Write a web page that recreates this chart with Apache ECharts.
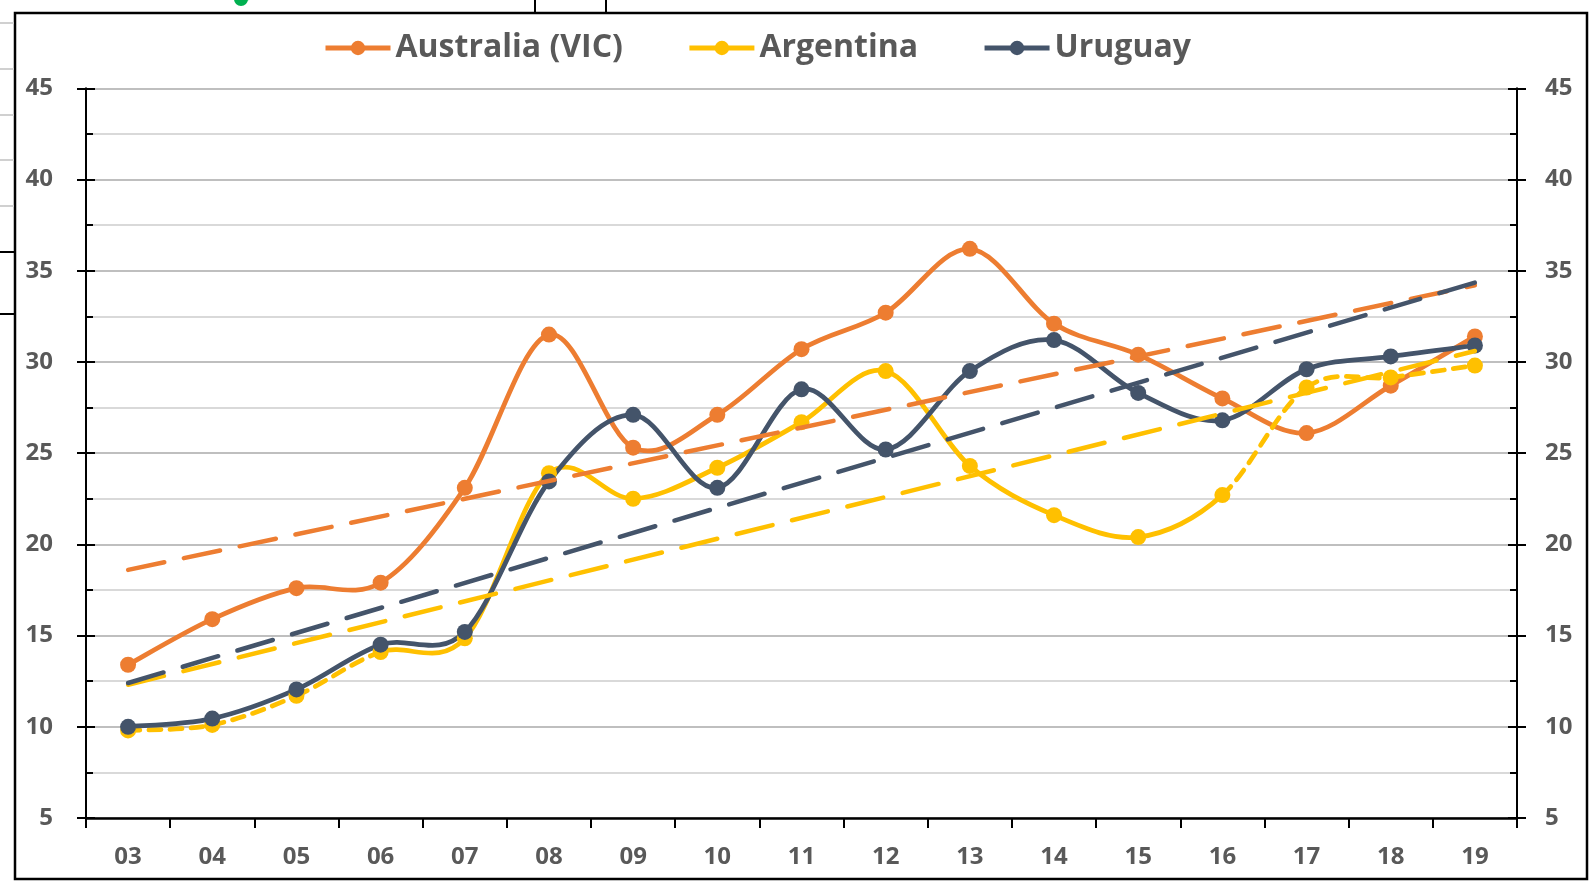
<!DOCTYPE html>
<html>
<head>
<meta charset="utf-8">
<script src="https://cdn.jsdelivr.net/npm/echarts@6/dist/echarts.min.js"></script>
<style>
html,body{margin:0;padding:0;background:#fff;}
#chart{width:1591px;height:884px;}
</style>
</head>
<body>
<div id="chart"></div>
<script>
// ---- data ----
const categories = ['03','04','05','06','07','08','09','10','11','12','13','14','15','16','17','18','19'];
const australia = [13.4, 15.9, 17.6, 17.9, 23.1, 31.5, 25.3, 27.1, 30.7, 32.7, 36.2, 32.1, 30.4, 28.0, 26.1, 28.7, 31.4];
const argentina = [9.8, 10.1, 11.7, 14.1, 14.85, 23.9, 22.5, 24.2, 26.7, 29.5, 24.3, 21.6, 20.4, 22.7, 28.6, 29.15, 29.8];
const uruguay   = [10.0, 10.45, 12.05, 14.5, 15.2, 23.45, 27.1, 23.1, 28.5, 25.2, 29.5, 31.2, 28.3, 26.8, 29.6, 30.3, 30.9];
// trendline values at first and last category
const trendAustralia = [18.6, 34.2];
const trendArgentina = [12.3, 30.6];
const trendUruguay   = [12.4, 34.35];
// Argentina line segments drawn dashed (segment i joins category i and i+1)
const argDashedSegments = [0, 1, 2, 13, 14, 15];
const yTicks = {min: 5, max: 45, interval: 5};

const names = ['Australia (VIC)', 'Argentina', 'Uruguay'];
const colors = {aus: '#ED7D31', arg: '#FFC000', uru: '#44546A'};
const labelColor = '#595959';
const fontFam = "'Open Sans', 'Noto Sans', sans-serif";

const n = categories.length;
const lineW = 4.75, symSize = 16;
const trendData = t => categories.map((c, i) => i === 0 ? t[0] : (i === n - 1 ? t[1] : null));

// Excel-like smoothed line (Catmull-Rom style Bezier segments) drawn through the axes' coordinates
function curveSeries(values, color, dashedSegs) {
  return {
    type: 'custom', name: 'curve', silent: true, animation: false, z: 2,
    data: values.slice(0, -1).map((v, i) => [i, v, values[i + 1]]),
    encode: {x: 0, y: [1, 2]},
    clip: true,
    renderItem: function (params, api) {
      const i = params.dataIndex;
      const pt = k => api.coord([k, values[k]]);
      const p1 = pt(i), p2 = pt(i + 1);
      const p0 = i > 0 ? pt(i - 1) : p1;
      const p3 = i + 2 < values.length ? pt(i + 2) : p2;
      const t = 1 / 6;
      const dashed = dashedSegs && dashedSegs.indexOf(i) >= 0;
      return {
        type: 'bezierCurve',
        shape: {
          x1: p1[0], y1: p1[1], x2: p2[0], y2: p2[1],
          cpx1: p1[0] + (p2[0] - p0[0]) * t, cpy1: p1[1] + (p2[1] - p0[1]) * t,
          cpx2: p2[0] - (p3[0] - p1[0]) * t, cpy2: p2[1] - (p3[1] - p1[1]) * t
        },
        style: {
          fill: 'none', stroke: color, lineWidth: lineW, lineCap: 'round',
          lineDash: dashed ? [12, 9] : null
        }
      };
    }
  };
}
function markerSeries(name, data, color) {
  return {
    name: name, type: 'line', data: data,
    symbol: 'circle', symbolSize: symSize, showSymbol: true,
    lineStyle: {color: color, width: 5, opacity: 0},
    itemStyle: {color: color, borderWidth: 0},
    emphasis: {disabled: true}, silent: true, animation: false, z: 2
  };
}
function trendSeries(name, t, color) {
  return {
    name: name, type: 'line', data: trendData(t), connectNulls: true,
    symbol: 'none', smooth: false,
    lineStyle: {color: color, width: 4.5, type: [37, 20], cap: 'round'},
    emphasis: {disabled: true}, silent: true, animation: false, z: 3
  };
}

const labelStyle = {color: labelColor, fontSize: 24, fontWeight: 'bold', fontFamily: fontFam};
const blackLine = {color: '#000', width: 2};

const chart = echarts.init(document.getElementById('chart'), null, {renderer: 'canvas'});
chart.setOption({
  backgroundColor: '#fff',
  animation: false,
  grid: {left: 86, right: 74, top: 88.3, bottom: 66, containLabel: false},
  legend: {
    data: names.map(nm => ({name: nm, lineStyle: {opacity: 1, width: 5}})),
    left: 318, top: 27, itemWidth: 65, itemHeight: 18, itemGap: 64,
    textStyle: {color: labelColor, fontSize: 32, fontWeight: 'bold', fontFamily: fontFam},
    selectedMode: false
  },
  xAxis: {
    type: 'category', data: categories, boundaryGap: true,
    axisLine: {show: true, onZero: false, lineStyle: {color: '#000', width: 2.5}},
    axisTick: {show: true, interval: 0, length: 10, lineStyle: blackLine},
    axisLabel: Object.assign({margin: 27, interval: 0}, labelStyle),
    splitLine: {show: false}
  },
  yAxis: [
    Object.assign({type: 'value', position: 'left',
      axisLine: {show: true, onZero: false, lineStyle: blackLine},
      axisTick: {show: true, length: 9, lineStyle: blackLine},
      axisLabel: Object.assign({margin: 33}, labelStyle),
      splitLine: {show: true, lineStyle: {color: '#BFBFBF', width: 2}},
      minorTick: {show: false, splitNumber: 2},
      minorSplitLine: {show: true, lineStyle: {color: '#D9D9D9', width: 2}}
    }, yTicks),
    Object.assign({type: 'value', position: 'right',
      axisLine: {show: true, onZero: false, lineStyle: blackLine},
      axisTick: {show: true, length: 9, lineStyle: blackLine},
      axisLabel: Object.assign({margin: 28}, labelStyle),
      splitLine: {show: false}
    }, yTicks),
    Object.assign({type: 'value', position: 'left',
      axisLine: {show: false},
      axisTick: {show: true, inside: true, length: 9, lineStyle: blackLine},
      minorTick: {show: true, splitNumber: 2, length: 7, lineStyle: blackLine},
      axisLabel: {show: false}, splitLine: {show: false}
    }, yTicks),
    Object.assign({type: 'value', position: 'right',
      axisLine: {show: false},
      axisTick: {show: true, inside: true, length: 9, lineStyle: blackLine},
      minorTick: {show: true, splitNumber: 2, length: 7, lineStyle: blackLine},
      axisLabel: {show: false}, splitLine: {show: false}
    }, yTicks)
  ],
  series: [
    curveSeries(australia, colors.aus, null),
    markerSeries(names[0], australia, colors.aus),
    curveSeries(argentina, colors.arg, argDashedSegments),
    markerSeries(names[1], argentina, colors.arg),
    curveSeries(uruguay, colors.uru, null),
    markerSeries(names[2], uruguay, colors.uru),
    trendSeries('Trend Australia', trendAustralia, colors.aus),
    trendSeries('Trend Argentina', trendArgentina, colors.arg),
    trendSeries('Trend Uruguay', trendUruguay, colors.uru)
  ],
  graphic: [
    // chart frame
    {type: 'rect', shape: {x: 15, y: 13, width: 1572, height: 866}, style: {fill: null, stroke: '#000', lineWidth: 2.5}, z: -1, silent: true},
    // surrounding spreadsheet fragments
    {type: 'line', shape: {x1: 0, y1: 23, x2: 14, y2: 23}, style: {stroke: '#D0D0D0', lineWidth: 2}, silent: true},
    {type: 'line', shape: {x1: 0, y1: 69, x2: 14, y2: 69}, style: {stroke: '#D0D0D0', lineWidth: 2}, silent: true},
    {type: 'line', shape: {x1: 0, y1: 115, x2: 14, y2: 115}, style: {stroke: '#D0D0D0', lineWidth: 2}, silent: true},
    {type: 'line', shape: {x1: 0, y1: 160, x2: 14, y2: 160}, style: {stroke: '#D0D0D0', lineWidth: 2}, silent: true},
    {type: 'line', shape: {x1: 0, y1: 206, x2: 14, y2: 206}, style: {stroke: '#D0D0D0', lineWidth: 2}, silent: true},
    {type: 'line', shape: {x1: 0, y1: 252, x2: 14, y2: 252}, style: {stroke: '#000', lineWidth: 2}, silent: true},
    {type: 'line', shape: {x1: 0, y1: 314, x2: 14, y2: 314}, style: {stroke: '#000', lineWidth: 2}, silent: true},
    {type: 'line', shape: {x1: 535, y1: 0, x2: 535, y2: 12}, style: {stroke: '#000', lineWidth: 2}, silent: true},
    {type: 'line', shape: {x1: 606, y1: 0, x2: 606, y2: 12}, style: {stroke: '#000', lineWidth: 2}, silent: true},
    {type: 'circle', shape: {cx: 241, cy: -1, r: 7}, style: {fill: '#00B050'}, silent: true},
    {type: 'line', shape: {x1: 241, y1: -1, x2: 258, y2: -3}, style: {stroke: '#00B050', lineWidth: 4}, silent: true}
  ]
});
</script>
</body>
</html>
